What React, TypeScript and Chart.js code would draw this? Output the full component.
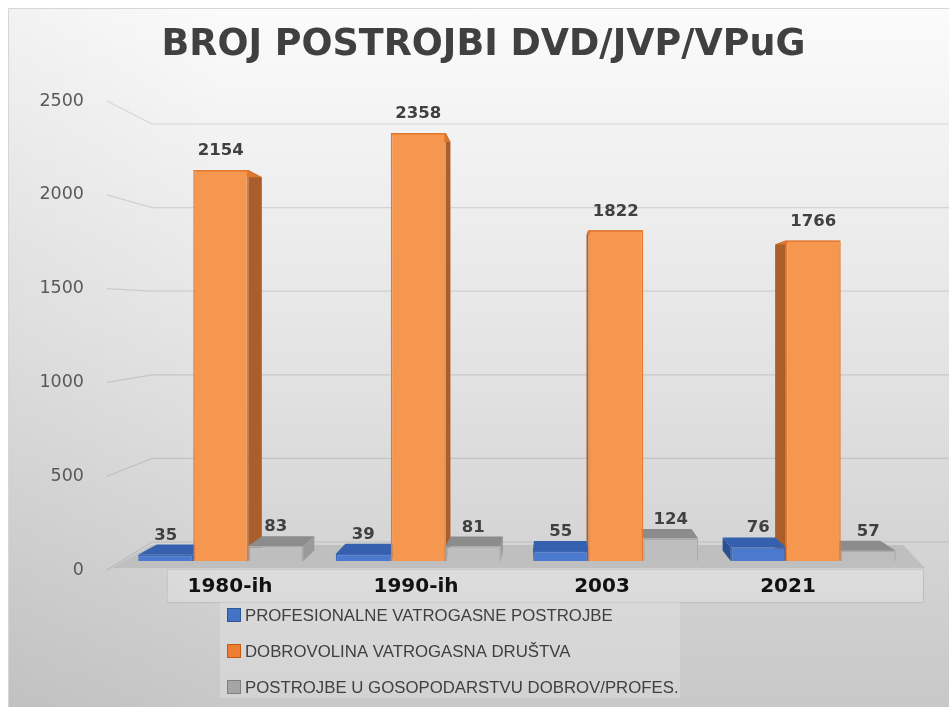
import React, { useEffect, useRef } from "react";
import { Chart, registerables } from "chart.js";

Chart.register(...registerables);

// ---------------- data ----------------
const TITLE = "BROJ POSTROJBI DVD/JVP/VPuG";
const CATEGORIES = ["1980-ih", "1990-ih", "2003", "2021"];
const SERIES_NAMES = [
  "PROFESIONALNE VATROGASNE POSTROJBE",
  "DOBROVOLINA VATROGASNA DRUŠTVA",
  "POSTROJBE U GOSOPODARSTVU DOBROV/PROFES.",
];
const PROFESIONALNE = [35, 39, 55, 76];
const DOBROVOLJNA = [2154, 2358, 1822, 1766];
const GOSPODARSTVO = [83, 81, 124, 57];
const Y_TICKS = [0, 500, 1000, 1500, 2000, 2500];

// ---------------- styling / layout ----------------
const W = 941;
const H = 699;
const PAD_L = 24;
const PAD_R = 14;
const AREA = { left: 114, right: 904, top: 87, bottom: 567 };
const BAR_ZERO = 553; // pixel of value 0 for bars (front plane)
const BAR_PX = 0.1815; // px per unit, front plane
const LBL_ZERO = 562; // pixel of value 0 for tick labels
const LBL_PX = 0.1876;
const XL_ZERO = 222; // pixel of first category label
const XL_STEP = 186;
const VP = { x: 542, y: 322 };
const DEPTH = 0.045;

const FRONT = ["#4A79CF", "#F6974F", "#BEBEBE"];
const BORDER = ["#3A66B8", "#E3782F", "#ABABAB"];
const TOPC = ["#3460AE", "#DB772D", "#8C8C8C"];
const SIDE = ["#2B4F92", "#A95E2B", "#9A9A9A"];
const LEGEND_COL = ["#4472C4", "#ED7D31", "#A5A5A5"];
const LEGEND_BORDER = ["#2F5597", "#C55A11", "#7F7F7F"];

const proj = (x: number, y: number) => [x + DEPTH * (VP.x - x), y + DEPTH * (VP.y - y)];

const decor = {
  id: "decor",
  beforeDraw(chart: any) {
    const { ctx, width, height, chartArea: ca } = chart;
    const ys = chart.scales.y;
    const yl = chart.scales.yl;
    ctx.save();
    const g = ctx.createLinearGradient(0, 0, 0, height);
    g.addColorStop(0, "#fbfbfb");
    g.addColorStop(0.45, "#e6e6e6");
    g.addColorStop(1, "#c8c8c8");
    ctx.fillStyle = g;
    ctx.fillRect(0, 0, width, height);
    const g2 = ctx.createLinearGradient(0, 0, 220, 0);
    g2.addColorStop(0, "rgba(0,0,0,0.035)");
    g2.addColorStop(1, "rgba(0,0,0,0)");
    ctx.fillStyle = g2;
    ctx.fillRect(0, 0, 220, height);
    ctx.strokeStyle = "#d6d6d6";
    ctx.lineWidth = 1;
    ctx.beginPath();
    ctx.moveTo(0.5, height);
    ctx.lineTo(0.5, 0.5);
    ctx.lineTo(width, 0.5);
    ctx.stroke();

    // back-wall gridlines
    const zeroF = ys.getPixelForValue(0);
    const ratio = 418 / 453.75;
    ctx.strokeStyle = "rgba(0,0,0,0.11)";
    ctx.lineWidth = 1.2;
    for (const v of Y_TICKS) {
      const fy = yl.getPixelForValue(v);
      const by = zeroF - 19 - (zeroF - ys.getPixelForValue(v)) * ratio;
      ctx.beginPath();
      ctx.moveTo(ca.left - 15, fy);
      ctx.lineTo(ca.left + 30, by);
      ctx.lineTo(width, by);
      ctx.stroke();
    }

    // floor
    ctx.fillStyle = "#bfbfbf";
    ctx.beginPath();
    ctx.moveTo(ca.left - 10, zeroF + 7);
    ctx.lineTo(ca.right + 13, zeroF + 7);
    ctx.lineTo(ca.right - 9, zeroF - 16);
    ctx.lineTo(ca.left + 30, zeroF - 16);
    ctx.closePath();
    ctx.fill();

    // category label box
    ctx.fillStyle = "rgba(255,255,255,0.22)";
    ctx.strokeStyle = "rgba(0,0,0,0.08)";
    ctx.fillRect(ca.left + 45, zeroF + 8, 756, 33);
    ctx.strokeRect(ca.left + 45.5, zeroF + 8.5, 756, 33);

    // legend box
    ctx.fillStyle = "rgba(255,255,255,0.2)";
    ctx.fillRect(212, 594, 460, 96);
    ctx.restore();
  },
  beforeDatasetsDraw(chart: any) {
    const { ctx } = chart;
    ctx.save();
    const metas = chart.data.datasets.map((_: any, i: number) => chart.getDatasetMeta(i));
    // side faces
    metas.forEach((meta: any, di: number) => {
      meta.data.forEach((el: any) => {
        const { x, y, base, width } = el.getProps(["x", "y", "base", "width"], true);
        const xl = x - width / 2;
        const xr = x + width / 2;
        const ex = xr < VP.x ? xr : xl;
        const a = proj(ex, y);
        const b = proj(ex, base);
        ctx.fillStyle = SIDE[di];
        ctx.beginPath();
        ctx.moveTo(ex, y);
        ctx.lineTo(a[0], a[1]);
        ctx.lineTo(b[0], b[1]);
        ctx.lineTo(ex, base);
        ctx.closePath();
        ctx.fill();
      });
    });
    // top faces
    metas.forEach((meta: any, di: number) => {
      meta.data.forEach((el: any) => {
        const { x, y, width } = el.getProps(["x", "y", "width"], true);
        const xl = x - width / 2;
        const xr = x + width / 2;
        const a = proj(xr, y);
        const b = proj(xl, y);
        ctx.fillStyle = TOPC[di];
        ctx.beginPath();
        ctx.moveTo(xl, y);
        ctx.lineTo(xr, y);
        ctx.lineTo(a[0], a[1]);
        ctx.lineTo(b[0], b[1]);
        ctx.closePath();
        ctx.fill();
      });
    });
    ctx.restore();
  },
  afterDatasetsDraw(chart: any) {
    const { ctx } = chart;
    ctx.save();
    ctx.font = 'bold 16.5px "DejaVu Sans"';
    ctx.fillStyle = "#404040";
    ctx.textAlign = "center";
    ctx.textBaseline = "middle";
    chart.data.datasets.forEach((ds: any, di: number) => {
      const meta = chart.getDatasetMeta(di);
      meta.data.forEach((el: any, i: number) => {
        const { x, y } = el.getProps(["x", "y"], true);
        ctx.fillText(String(ds.data[i]), x, y - 19);
      });
    });
    ctx.restore();
  },
  afterDraw(chart: any) {
    const { ctx } = chart;
    ctx.save();
    ctx.font = '16.8px "Liberation Sans"';
    ctx.textBaseline = "middle";
    ctx.textAlign = "left";
    const rows = [607, 643, 679];
    chart.data.datasets.forEach((ds: any, di: number) => {
      const cy = rows[di];
      ctx.fillStyle = LEGEND_COL[di];
      ctx.fillRect(219, cy - 7, 14, 14);
      ctx.strokeStyle = LEGEND_BORDER[di];
      ctx.lineWidth = 1;
      ctx.strokeRect(219.5, cy - 6.5, 13, 13);
      ctx.fillStyle = "#404040";
      ctx.fillText(ds.label, 237, cy + 1);
    });
    ctx.restore();
  },
};

export default function App() {
  const ref = useRef<HTMLCanvasElement | null>(null);
  useEffect(() => {
    if (!ref.current) return;
    const chart = new Chart(ref.current, {
      type: "bar",
      data: {
        labels: CATEGORIES,
        datasets: [PROFESIONALNE, DOBROVOLJNA, GOSPODARSTVO].map((d, i) => ({
          label: SERIES_NAMES[i],
          data: d,
          backgroundColor: FRONT[i],
          borderColor: BORDER[i],
          borderWidth: 1.5,
          categoryPercentage: 0.8354,
          barPercentage: 1,
          xAxisID: "x",
          yAxisID: "y",
        })),
      },
      options: {
        responsive: false,
        animation: false,
        devicePixelRatio: 1,
        layout: { padding: { left: PAD_L, right: PAD_R, top: 0, bottom: H - AREA.bottom - 30 } },
        plugins: {
          legend: { display: false },
          tooltip: { enabled: false },
          title: {
            display: true,
            text: TITLE,
            color: "#404040",
            font: { family: "DejaVu Sans", size: 36.5, weight: "bold" },
            padding: { top: 16, bottom: 27.2 },
          },
        },
        scales: {
          x: { type: "category", display: false },
          xl: {
            type: "linear",
            position: "bottom",
            offset: false,
            min: (AREA.left - XL_ZERO) / XL_STEP,
            max: (AREA.right - XL_ZERO) / XL_STEP,
            afterBuildTicks: (s: any) => {
              s.ticks = CATEGORIES.map((_, i) => ({ value: i }));
            },
            afterFit: (s: any) => {
              s.height = 30;
            },
            grid: { display: false, drawTicks: false, offset: false },
            border: { display: false },
            ticks: {
              padding: 0,
              maxRotation: 0,
              autoSkip: false,
              color: "#111111",
              font: { family: "DejaVu Sans", size: 20, weight: "bold" },
              callback: (v: any) => CATEGORIES[Math.round(Number(v))] ?? "",
            },
          },
          y: {
            display: false,
            min: (BAR_ZERO - AREA.bottom) / BAR_PX,
            max: (BAR_ZERO - AREA.top) / BAR_PX,
          },
          yl: {
            type: "linear",
            position: "left",
            min: (LBL_ZERO - AREA.bottom) / LBL_PX,
            max: (LBL_ZERO - AREA.top) / LBL_PX,
            afterBuildTicks: (s: any) => {
              s.ticks = Y_TICKS.map((v) => ({ value: v }));
            },
            afterFit: (s: any) => {
              s.width = AREA.left - PAD_L;
            },
            grid: { display: false, drawTicks: false },
            border: { display: false },
            ticks: {
              padding: 38,
              color: "#595959",
              font: { family: "DejaVu Sans", size: 17.5 },
              callback: (v: any) => String(v),
            },
          },
          yr: {
            type: "linear",
            position: "right",
            min: 0,
            max: 1,
            afterFit: (s: any) => {
              s.width = W - PAD_R - AREA.right;
            },
            grid: { display: false, drawTicks: false },
            border: { display: false },
            ticks: { display: false },
          },
        },
      },
      plugins: [decor],
    } as any);
    return () => chart.destroy();
  }, []);
  return (
    <div style={{ position: "fixed", left: 8, top: 8, width: W, height: H }}>
      <canvas ref={ref} width={W} height={H} style={{ width: W, height: H, display: "block" }} />
    </div>
  );
}
